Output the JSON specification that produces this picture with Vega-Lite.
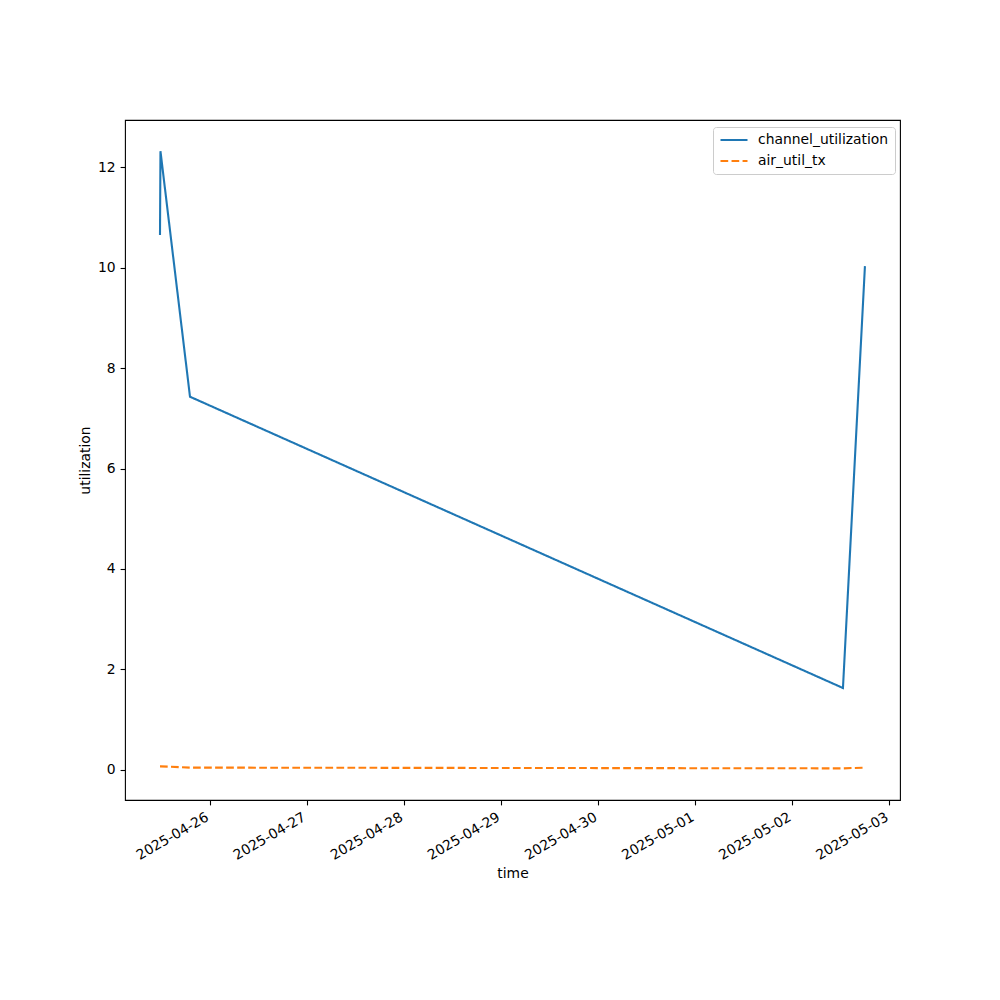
{
  "$schema": "https://vega.github.io/schema/vega-lite/v6.json",
  "width": 775,
  "height": 680,
  "autosize": {"type": "none"},
  "padding": {"left": 125, "top": 120, "right": 100, "bottom": 200},
  "background": "white",
  "config": {
    "view": {"stroke": "black", "strokeWidth": 1.1},
    "font": "DejaVu Sans",
    "axis": {
      "domain": false,
      "grid": false,
      "tickColor": "black",
      "tickSize": 4.9,
      "tickWidth": 1.1,
      "labelColor": "black",
      "labelFont": "DejaVu Sans",
      "labelFontSize": 13.9,
      "labelPadding": 4.9,
      "titleFont": "DejaVu Sans",
      "titleFontSize": 13.9,
      "titleFontWeight": "normal",
      "titleColor": "black"
    }
  },
  "data": {
    "values": [
      {"time": "2025-04-25T11:43:00Z", "series": "channel_utilization", "value": 10.65},
      {"time": "2025-04-25T11:50:00Z", "series": "channel_utilization", "value": 12.32},
      {"time": "2025-04-25T19:08:00Z", "series": "channel_utilization", "value": 7.43},
      {"time": "2025-05-02T12:32:00Z", "series": "channel_utilization", "value": 1.63},
      {"time": "2025-05-02T17:58:00Z", "series": "channel_utilization", "value": 10.03},
      {"time": "2025-04-25T11:43:00Z", "series": "air_util_tx", "value": 0.07},
      {"time": "2025-04-25T11:50:00Z", "series": "air_util_tx", "value": 0.07},
      {"time": "2025-04-25T19:08:00Z", "series": "air_util_tx", "value": 0.045},
      {"time": "2025-05-02T12:32:00Z", "series": "air_util_tx", "value": 0.03},
      {"time": "2025-05-02T17:58:00Z", "series": "air_util_tx", "value": 0.045}
    ]
  },
  "mark": {"type": "line", "strokeWidth": 2.1, "clip": true},
  "encoding": {
    "x": {
      "field": "time",
      "type": "temporal",
      "title": "time",
      "scale": {
        "type": "utc",
        "domain": [
          {"year": 2025, "month": 4, "date": 25, "hours": 3, "minutes": 4, "utc": true},
          {"year": 2025, "month": 5, "date": 3, "hours": 2, "minutes": 38, "utc": true}
        ]
      },
      "axis": {
        "values": [
          {"year": 2025, "month": 4, "date": 26, "utc": true},
          {"year": 2025, "month": 4, "date": 27, "utc": true},
          {"year": 2025, "month": 4, "date": 28, "utc": true},
          {"year": 2025, "month": 4, "date": 29, "utc": true},
          {"year": 2025, "month": 4, "date": 30, "utc": true},
          {"year": 2025, "month": 5, "date": 1, "utc": true},
          {"year": 2025, "month": 5, "date": 2, "utc": true},
          {"year": 2025, "month": 5, "date": 3, "utc": true}
        ],
        "format": "%Y-%m-%d",
        "labelAngle": -30,
        "labelAlign": "right",
        "labelBaseline": "top",
        "labelOffset": -6,
        "titleY": 73,
        "titleBaseline": "middle"
      }
    },
    "y": {
      "field": "value",
      "type": "quantitative",
      "title": "utilization",
      "scale": {"domain": [-0.6, 12.94], "nice": false, "zero": false},
      "axis": {
        "values": [0, 2, 4, 6, 8, 10, 12],
        "titleX": -40,
        "titleY": 340,
        "titleAngle": -90,
        "titleAlign": "center",
        "titleBaseline": "middle"
      }
    },
    "color": {
      "field": "series",
      "type": "nominal",
      "title": null,
      "sort": ["channel_utilization", "air_util_tx"],
      "scale": {"domain": ["channel_utilization", "air_util_tx"], "range": ["#1f77b4", "#ff7f0e"]},
      "legend": {
        "orient": "none",
        "legendX": 588,
        "legendY": 7,
        "symbolType": "stroke",
        "symbolSize": 729,
        "symbolStrokeWidth": 2.1,
        "labelFont": "DejaVu Sans",
        "labelFontSize": 13.9,
        "labelColor": "black",
        "labelOffset": 9,
        "clipHeight": 14,
        "padding": 6,
        "rowPadding": 7,
        "strokeColor": "#cccccc",
        "cornerRadius": 3,
        "fillColor": "white"
      }
    },
    "strokeDash": {
      "field": "series",
      "type": "nominal",
      "title": null,
      "sort": ["channel_utilization", "air_util_tx"],
      "scale": {"domain": ["channel_utilization", "air_util_tx"], "range": [[1, 0], [7.7, 3.33]]}
    }
  }
}
